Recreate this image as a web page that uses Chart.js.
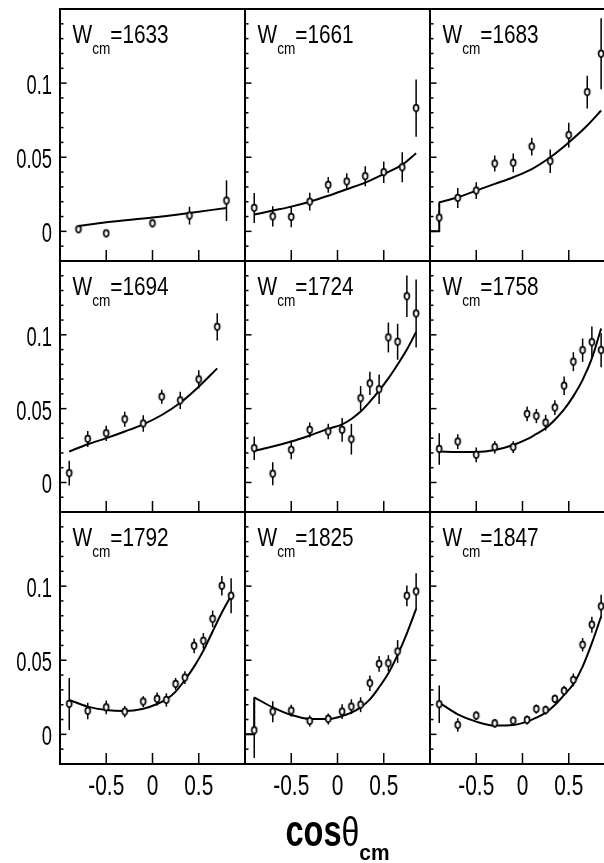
<!DOCTYPE html>
<html>
<head>
<meta charset="utf-8">
<script src="https://cdn.jsdelivr.net/npm/chart.js@4.4.1/dist/chart.umd.min.js"></script>
<style>
  html, body { margin: 0; padding: 0; background: #fff; }
  #grid { position: relative; width: 604px; height: 863px; overflow: hidden; background: #fff; }
  #grid canvas { position: absolute; }
</style>
</head>
<body>
<div id="grid"></div>
<script>
// energy bins (MeV), one panel each
const energies = [1633, 1661, 1683, 1694, 1724, 1758, 1792, 1825, 1847];

// axis tick labels
const xTickLabels = [-0.5, 0, 0.5];
const yTickLabels = [0, 0.05, 0.1];

// angular bins
const cosCoarse = [-0.9, -0.7, -0.5, -0.3, -0.1, 0.1, 0.3, 0.5, 0.7, 0.85];
const cosFine = [-0.9, -0.7, -0.5, -0.3, -0.1, 0.05, 0.15, 0.25, 0.35, 0.45, 0.55, 0.65, 0.75, 0.85];

// W = 1633
const cos1633 = [-0.8, -0.5, 0.0, 0.4, 0.8];
const val1633 = [0.0014, -0.0014, 0.0054, 0.0106, 0.0207];
const err1633 = [0.002, 0.002, 0.0025, 0.006, 0.0137];
const fitCos1633 = [-0.8, -0.5, 0.0, 0.4, 0.8];
const fit1633 = [0.0036, 0.0061, 0.0093, 0.0124, 0.0158];

// W = 1661
const val1661 = [0.0158, 0.0101, 0.0097, 0.020, 0.0313, 0.0336, 0.0372, 0.0399, 0.0432, 0.0831];
const err1661 = [0.0101, 0.0068, 0.007, 0.006, 0.0053, 0.0056, 0.0068, 0.0072, 0.0101, 0.0193];
const fit1661 = [0.0113, 0.014, 0.0167, 0.020, 0.024, 0.0284, 0.0329, 0.0387, 0.045, 0.0527];

// W = 1683
const val1683 = [0.0092, 0.0225, 0.0275, 0.0457, 0.0462, 0.0572, 0.0473, 0.0649, 0.0939, 0.1198];
const err1683 = [0.0045, 0.0068, 0.0056, 0.0054, 0.0064, 0.006, 0.0079, 0.0084, 0.011, 0.024];
const fit1683 = [0.0196, 0.023, 0.0275, 0.032, 0.0365, 0.042, 0.050, 0.060, 0.0714, 0.0815];

// W = 1694
const cos1694 = [-0.9, -0.7, -0.5, -0.3, -0.1, 0.1, 0.3, 0.5, 0.7];
const val1694 = [0.0063, 0.0295, 0.0333, 0.0428, 0.0399, 0.0581, 0.0556, 0.0698, 0.1054];
const err1694 = [0.0084, 0.0054, 0.0052, 0.0051, 0.0056, 0.0047, 0.0059, 0.0062, 0.0092];
const fit1694 = [0.021, 0.0259, 0.030, 0.0345, 0.0394, 0.0457, 0.054, 0.0649, 0.0773];

// W = 1724
const val1724 = [0.0232, 0.0059, 0.0221, 0.0356, 0.0345, 0.0356, 0.0293, 0.057, 0.0671, 0.0631, 0.0982, 0.0953, 0.1261, 0.1144];
const err1724 = [0.0079, 0.0078, 0.0064, 0.0051, 0.0053, 0.0081, 0.0104, 0.0083, 0.0079, 0.01, 0.0101, 0.0122, 0.0141, 0.023];
const fit1724 = [0.0214, 0.0243, 0.0277, 0.0318, 0.0363, 0.0394, 0.043, 0.048, 0.0547, 0.0622, 0.0705, 0.0799, 0.09, 0.102];

// W = 1758
const val1758 = [0.0227, 0.0277, 0.0187, 0.0239, 0.0239, 0.0464, 0.045, 0.0405, 0.0507, 0.0655, 0.0818, 0.0896, 0.095, 0.0896];
const err1758 = [0.0107, 0.005, 0.005, 0.0042, 0.004, 0.005, 0.0048, 0.0053, 0.005, 0.0062, 0.0064, 0.0079, 0.0107, 0.0115];
const fit1758 = [0.021, 0.0207, 0.0207, 0.022, 0.0254, 0.0293, 0.0329, 0.0367, 0.0425, 0.0495, 0.0585, 0.0695, 0.084, 0.1043];

// W = 1792
const val1792 = [0.0205, 0.0158, 0.0182, 0.0153, 0.0221, 0.0239, 0.0232, 0.034, 0.0383, 0.0597, 0.0631, 0.0779, 0.1002, 0.0935];
const err1792 = [0.0175, 0.0056, 0.0047, 0.0038, 0.0036, 0.0044, 0.0045, 0.004, 0.0043, 0.005, 0.0053, 0.0056, 0.0066, 0.0118];
const fit1792 = [0.0232, 0.0187, 0.0164, 0.0158, 0.0173, 0.0205, 0.0236, 0.0288, 0.0367, 0.0457, 0.0565, 0.0694, 0.0822, 0.0935];

// W = 1825
const val1825 = [0.0027, 0.0153, 0.016, 0.009, 0.0104, 0.0153, 0.0187, 0.02, 0.0345, 0.0475, 0.048, 0.0559, 0.0935, 0.0964];
const err1825 = [0.0186, 0.0071, 0.004, 0.0037, 0.0037, 0.005, 0.005, 0.005, 0.0052, 0.0053, 0.0054, 0.0077, 0.007, 0.0123];
const fit1825 = [0.025, 0.0182, 0.0131, 0.0104, 0.0104, 0.0124, 0.0146, 0.0182, 0.0236, 0.0318, 0.0412, 0.0536, 0.0682, 0.0847];

// W = 1847
const val1847 = [0.0203, 0.0063, 0.0126, 0.0074, 0.0092, 0.0097, 0.0171, 0.0164, 0.0239, 0.0293, 0.0367, 0.0604, 0.0739, 0.0863];
const err1847 = [0.0127, 0.0046, 0.003, 0.003, 0.003, 0.003, 0.003, 0.003, 0.003, 0.0035, 0.0043, 0.0045, 0.0054, 0.0079];
const fit1847 = [0.0214, 0.0135, 0.0086, 0.0059, 0.0063, 0.0086, 0.0113, 0.0146, 0.0198, 0.0266, 0.034, 0.0457, 0.0615, 0.0795];

// fit drops to zero below the first bin in two panels
const stepCos = [-1, -0.9, -0.9];
const step1683 = [0, 0, 0.0196];
const step1825 = [0, 0, 0.025];

const panels = [
  { cos: cos1633, val: val1633, err: err1633, fitCos: fitCos1633, fit: fit1633 },
  { cos: cosCoarse, val: val1661, err: err1661, fitCos: cosCoarse, fit: fit1661 },
  { cos: cosCoarse, val: val1683, err: err1683, fitCos: cosCoarse, fit: fit1683, step: step1683 },
  { cos: cos1694, val: val1694, err: err1694, fitCos: cos1694, fit: fit1694 },
  { cos: cosFine, val: val1724, err: err1724, fitCos: cosFine, fit: fit1724 },
  { cos: cosFine, val: val1758, err: err1758, fitCos: cosFine, fit: fit1758 },
  { cos: cosFine, val: val1792, err: err1792, fitCos: cosFine, fit: fit1792 },
  { cos: cosFine, val: val1825, err: err1825, fitCos: cosFine, fit: fit1825, step: step1825 },
  { cos: cosFine, val: val1847, err: err1847, fitCos: cosFine, fit: fit1847 },
];

// frame geometry
const COL_LEFT = [60, 245, 430];
const COL_W = 185;
const ROW_TOP = [9, 261, 512];
const ROW_BOTTOM = [261, 512, 764];
const PAD = { left: 62, top: 10, right: 12, bottom: 100 };
const FONT = '"Liberation Sans", Arial, sans-serif';

// open marker, slightly taller than wide like the printed ones
const ring = document.createElement('canvas');
ring.width = 10;
ring.height = 12;
const rc = ring.getContext('2d');
rc.beginPath();
rc.ellipse(5, 6, 2.5, 3.3, 0, 0, 2 * Math.PI);
rc.fillStyle = '#fff';
rc.fill();
rc.lineWidth = 1.7;
rc.strokeStyle = '#000';
rc.stroke();

// condensed text: draw with a horizontal squeeze
function squeezed(ctx, text, x, y, font, sx, align) {
  ctx.save();
  ctx.font = font;
  const w = ctx.measureText(text).width * sx;
  let x0 = x;
  if (align === 'right') x0 = x - w;
  else if (align === 'center') x0 = x - w / 2;
  ctx.translate(x0, y);
  ctx.scale(sx, 1);
  ctx.textAlign = 'left';
  ctx.textBaseline = 'alphabetic';
  ctx.fillStyle = '#000';
  ctx.fillText(text, 0, 0);
  ctx.restore();
  return w;
}

function textWidth(ctx, text, font, sx) {
  ctx.save();
  ctx.font = font;
  const w = ctx.measureText(text).width * sx;
  ctx.restore();
  return w;
}

// vertical error bars, drawn under the markers
const errorBars = {
  id: 'errorBars',
  beforeDatasetsDraw(chart) {
    const { ctx, scales: { x, y } } = chart;
    chart.data.datasets.forEach((ds) => {
      if (!ds.errors) return;
      ctx.save();
      ctx.strokeStyle = '#000';
      ctx.lineWidth = 1.5;
      ds.data.forEach((p, i) => {
        const px = x.getPixelForValue(p.x);
        ctx.beginPath();
        ctx.moveTo(px, y.getPixelForValue(p.y - ds.errors[i]));
        ctx.lineTo(px, y.getPixelForValue(p.y + ds.errors[i]));
        ctx.stroke();
      });
      ctx.restore();
    });
  }
};

// box, inward ticks, tick labels and panel title
const panelFrame = {
  id: 'panelFrame',
  afterDraw(chart, args, opts) {
    const { ctx, chartArea: a, scales: { x, y } } = chart;
    ctx.save();
    ctx.strokeStyle = '#000';
    ctx.lineWidth = 2;
    ctx.strokeRect(a.left, a.top, a.right - a.left, a.bottom - a.top);

    ctx.lineWidth = 1.5;
    for (let k = -2; k <= 15; k++) {
      const py = y.getPixelForValue(k / 100);
      const len = k % 5 === 0 ? 6.5 : 3.5;
      ctx.beginPath();
      ctx.moveTo(a.left, py);
      ctx.lineTo(a.left + len, py);
      ctx.stroke();
    }
    xTickLabels.forEach((v) => {
      const px = x.getPixelForValue(v);
      ctx.beginPath();
      ctx.moveTo(px, a.bottom);
      ctx.lineTo(px, a.bottom - 11);
      ctx.stroke();
    });
    ctx.restore();

    if (opts.col === 0) {
      yTickLabels.forEach((v) => {
        squeezed(ctx, String(v), a.left - 8, y.getPixelForValue(v) + 11, '27px ' + FONT, 0.68, 'right');
      });
    }
    if (opts.row === 2) {
      xTickLabels.forEach((v) => {
        squeezed(ctx, String(v), x.getPixelForValue(v), a.bottom + 31, '29px ' + FONT, 0.72, 'center');
      });
    }

    // W_cm = ... label
    let tx = a.left + 12.5;
    const base = a.top + 33.5;
    tx += squeezed(ctx, 'W', tx, base, '26px ' + FONT, 0.8, 'left');
    tx += squeezed(ctx, 'cm', tx, base + 11, '16px ' + FONT, 0.85, 'left');
    squeezed(ctx, '=' + opts.energy, tx, base, '26px ' + FONT, 0.8, 'left');

    // shared x-axis title under the middle column
    if (opts.row === 2 && opts.col === 1) {
      const f1 = 'bold 44px ' + FONT, f2 = '40px ' + FONT, f3 = 'bold 22px ' + FONT;
      const total = textWidth(ctx, 'cos', f1, 0.74) + textWidth(ctx, 'θ', f2, 0.8) + textWidth(ctx, 'cm', f3, 0.95);
      let cx = (a.left + a.right) / 2 - total / 2;
      cx += squeezed(ctx, 'cos', cx, a.bottom + 82, f1, 0.74, 'left');
      cx += squeezed(ctx, 'θ', cx, a.bottom + 82, f2, 0.8, 'left');
      squeezed(ctx, 'cm', cx, a.bottom + 96, f3, 0.95, 'left');
    }
  }
};

const grid = document.getElementById('grid');

panels.forEach((p, i) => {
  const row = Math.floor(i / 3);
  const col = i % 3;
  const canvas = document.createElement('canvas');
  const w = PAD.left + COL_W + PAD.right;
  const h = PAD.top + (ROW_BOTTOM[row] - ROW_TOP[row]) + PAD.bottom;
  canvas.width = w;
  canvas.height = h;
  canvas.style.width = w + 'px';
  canvas.style.height = h + 'px';
  canvas.style.left = (COL_LEFT[col] - PAD.left) + 'px';
  canvas.style.top = (ROW_TOP[row] - PAD.top) + 'px';
  grid.appendChild(canvas);

  const datasets = [
    {
      type: 'scatter',
      order: 0,
      data: p.cos.map((c, k) => ({ x: c, y: p.val[k] })),
      errors: p.err,
      pointStyle: ring,
      pointRadius: 4,
    },
    {
      type: 'line',
      order: 1,
      data: p.fitCos.map((c, k) => ({ x: c, y: p.fit[k] })),
      borderColor: '#000',
      borderWidth: 2,
      pointRadius: 0,
      cubicInterpolationMode: 'monotone',
      fill: false,
    },
  ];
  if (p.step) {
    datasets.push({
      type: 'line',
      order: 2,
      data: stepCos.map((c, k) => ({ x: c, y: p.step[k] })),
      borderColor: '#000',
      borderWidth: 2,
      pointRadius: 0,
      tension: 0,
      fill: false,
    });
  }

  new Chart(canvas, {
    type: 'scatter',
    data: { datasets },
    options: {
      responsive: false,
      animation: false,
      devicePixelRatio: 1,
      events: [],
      layout: { padding: { left: PAD.left, top: PAD.top, right: PAD.right, bottom: PAD.bottom } },
      plugins: {
        legend: { display: false },
        tooltip: { enabled: false },
        panelFrame: { row, col, energy: energies[i] },
      },
      scales: {
        x: { type: 'linear', min: -1, max: 1, display: false },
        y: { type: 'linear', min: -0.02, max: 0.15, display: false },
      },
    },
    plugins: [errorBars, panelFrame],
  });
});
</script>
</body>
</html>
